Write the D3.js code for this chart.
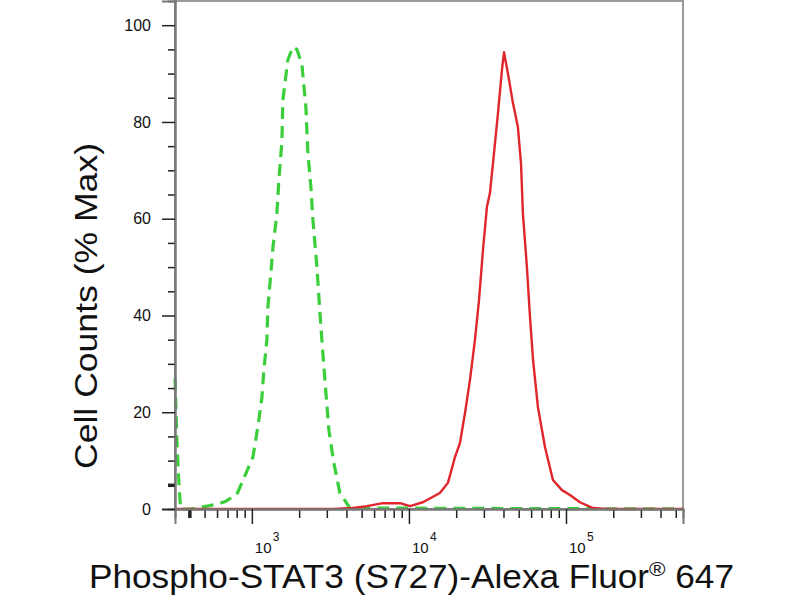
<!DOCTYPE html>
<html>
<head>
<meta charset="utf-8">
<script src="https://cdn.jsdelivr.net/npm/d3@7"></script>
<style>
  body { margin: 0; background: #fff; }
  text { font-family: "Liberation Sans", Arial, sans-serif; fill: #111; }
</style>
</head>
<body>
<div id="chart"></div>
<script>
// fluorescence intensity (x) and % of max cell count (y)
const greenX = [324, 335, 345, 352, 403, 466, 540, 673, 802, 863, 1015, 1092, 1158, 1192, 1246, 1265,
  1321, 1361, 1443, 1486, 1553, 1575, 1694, 1824, 1935, 2081, 2208, 2274, 2377, 2448, 2595,
  2713, 2834, 2961, 3093, 3326, 3635, 4207, 556000];
const greenY = [27, 12, 4, 0, 0, 0.3, 0.7, 1.5, 3, 5.4, 10.7, 17, 23, 28.7, 35, 41.7,
  48.8, 54, 61, 68, 76, 84.5, 92.8, 95.5, 95, 92, 83, 73.5, 66.5, 59.7, 50,
  40.5, 32, 24, 16.3, 9.5, 3.3, 0.2, 0];

const redX = [324, 3281, 4395, 5400, 6820, 8770, 10150, 12270, 15740, 17710, 19630, 21120, 22740,
  24480, 26340, 27910, 29600, 31400, 32800, 34300, 36900, 39100, 40300, 42700, 45900, 49400,
  51700, 53200, 56400, 59000, 61700, 66300, 73500, 82600, 94300, 106000, 122700, 148600, 182500, 556000];
const redY = [0, 0, 0.2, 0.6, 1.2, 1.2, 0.6, 1.4, 3.3, 5.4, 10.7, 13.6, 19.8,
  26.7, 35, 43, 53.5, 62.5, 65.3, 71.5, 81.8, 90.7, 94.4, 90, 84, 79,
  71.5, 61, 50, 39.7, 30.8, 21, 12.8, 6, 3.9, 2.9, 1.4, 0.2, 0, 0];

const xDomain = [324, 556000];
const yDomain = [0, 105];
const xMajorTicks = [1e3, 1e4, 1e5];
const xMajorExp = ["3", "4", "5"];
const yMajorTicks = [0, 20, 40, 60, 80, 100];

const width = 800, height = 600;
const plot = {left: 175, right: 683, top: 1, bottom: 509};

const svg = d3.select("#chart").append("svg")
  .attr("width", width)
  .attr("height", height);

const x = d3.scaleLog().domain(xDomain).range([plot.left, plot.right]);
const y = d3.scaleLinear().domain(yDomain).range([plot.bottom, plot.top]);

// minor x ticks: 2..9 x 10^k inside the domain
const xMinor = [];
for (let k = 2; k <= 5; k++) {
  for (let m = 2; m <= 9; m++) {
    const v = m * Math.pow(10, k);
    if (v > xDomain[0] && v < xDomain[1]) xMinor.push(v);
  }
}
const yMinor = d3.range(5, 105, 5).filter(v => v % 20 !== 0);

// frame (top and right)
svg.append("rect")
  .attr("x", plot.left).attr("y", plot.top)
  .attr("width", plot.right - plot.left).attr("height", plot.bottom - plot.top)
  .attr("fill", "none").attr("stroke", "#9a9a9a").attr("stroke-width", 2);

// curves
const line = d3.line()
  .x(d => x(d[0]))
  .y(d => y(d[1]));

svg.append("path")
  .datum(d3.zip(greenX, greenY))
  .attr("fill", "none")
  .attr("stroke", "#3acf3a")
  .attr("stroke-width", 3.2)
  .attr("stroke-dasharray", "12,7")
  .attr("d", line);

svg.append("path")
  .datum(d3.zip(redX, redY))
  .attr("fill", "none")
  .attr("stroke", "#e0262b")
  .attr("stroke-width", 2.4)
  .attr("stroke-linejoin", "round")
  .attr("d", line);

// x axis
const gx = svg.append("g").attr("transform", "translate(0," + plot.bottom + ")");
gx.call(d3.axisBottom(x).tickValues(xMinor).tickSize(9).tickFormat(""));
gx.append("g").call(d3.axisBottom(x).tickValues(xMajorTicks).tickSize(15).tickFormat(""));
gx.selectAll(".domain").attr("stroke", "#777").attr("stroke-width", 2);
gx.selectAll(".tick line").attr("stroke", "#222").attr("stroke-width", 1.5);
gx.select("g").selectAll(".tick line").attr("stroke-width", 3.5);

// x tick labels: "10" with a raised exponent
const xl = svg.append("g");
xMajorTicks.forEach((v, i) => {
  xl.append("text")
    .attr("x", x(v) + 3)
    .attr("y", 553)
    .attr("font-size", 15)
    .text("10");
  xl.append("text")
    .attr("x", x(v) + 21)
    .attr("y", 541)
    .attr("font-size", 12)
    .text(xMajorExp[i]);
});

// y axis
const gy = svg.append("g").attr("transform", "translate(" + plot.left + ",0)");
gy.call(d3.axisLeft(y).tickValues(yMinor).tickSize(7).tickFormat(""));
gy.append("g").call(d3.axisLeft(y).tickValues(yMajorTicks).tickSize(13).tickPadding(11).tickFormat(d3.format("d")));
gy.selectAll(".domain").attr("stroke", "#777").attr("stroke-width", 2);
gy.selectAll(".tick line").attr("stroke", "#222").attr("stroke-width", 1.5);
gy.select("g").selectAll(".tick line").attr("stroke-width", 3.5);
gy.selectAll(".tick text")
  .attr("font-size", 16)
  .attr("font-family", "Liberation Sans, Arial, sans-serif")
  .attr("fill", "#111");

// axis titles
svg.append("text")
  .attr("transform", "translate(97,306) rotate(-90)")
  .attr("text-anchor", "middle")
  .attr("font-size", 32)
  .attr("textLength", 326)
  .attr("lengthAdjust", "spacingAndGlyphs")
  .text("Cell Counts (% Max)");

const title = svg.append("text")
  .attr("x", 89)
  .attr("y", 588)
  .attr("font-size", 33)
  .attr("textLength", 645)
  .attr("lengthAdjust", "spacingAndGlyphs");
title.append("tspan").text("Phospho-STAT3 (S727)-Alexa Fluor");
title.append("tspan").attr("dy", -12).attr("font-size", 21).text("®");
title.append("tspan").attr("dy", 12).text(" 647");
</script>
</body>
</html>
